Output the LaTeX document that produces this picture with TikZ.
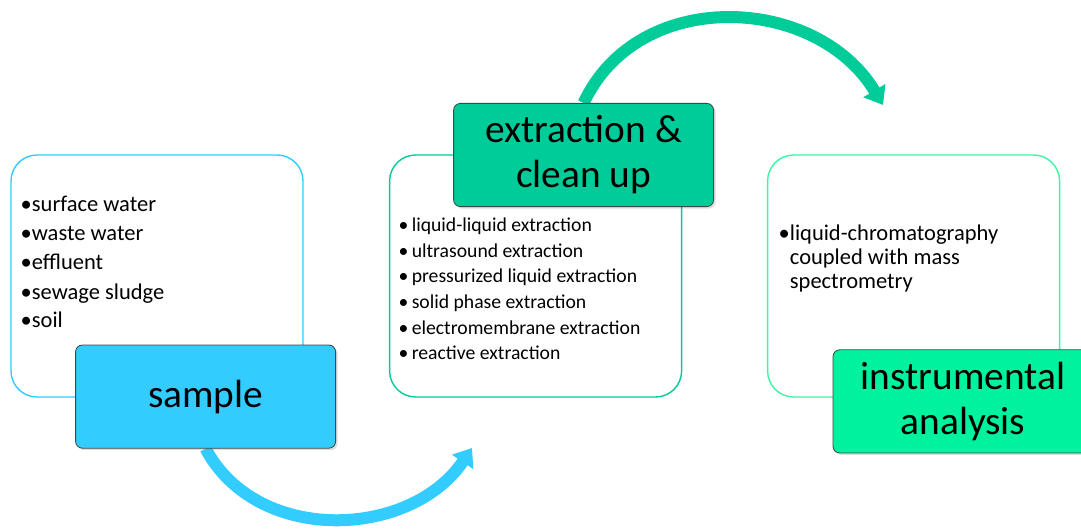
\documentclass[tikz,border=0pt]{standalone}
\usepackage{fontspec}
\setmainfont{Carlito}
\usetikzlibrary{arrows.meta, positioning, shadows, backgrounds}
\definecolor{cblue}{HTML}{33CCFF}
\definecolor{cteal}{HTML}{00CC99}
\definecolor{cmint}{HTML}{00F29E}
\definecolor{cmintline}{HTML}{3DF5A5}
\definecolor{cedge}{HTML}{3A4A4A}
\tikzset{
  every picture/.style={line width=1pt},
  panel/.style={draw=#1, fill=white, rounded corners=0.65cm, minimum width=7.3cm, minimum height=6.05cm},
  head/.style={draw=cedge, fill=#1, line width=0.6pt, rounded corners=0.17cm, minimum width=6.5cm, minimum height=2.58cm, align=center, font=\fontsize{28}{32}\selectfont, drop shadow={opacity=0.25, shadow xshift=0.5mm, shadow yshift=-0.5mm}},
  item/.style={anchor=base west, inner sep=0pt},
  flow/.style={draw=#1, line width=0.3cm, -{Triangle[width=0.62cm, length=0.42cm]}},
}

\begin{document}
\begin{tikzpicture}
  \useasboundingbox (0,0) rectangle (27.025,13.275);
  % outline panels
  \node[panel=cblue] (p1) at (3.925,6.375) {};
  \node[panel=cteal] (p2) at (13.39,6.375) {};
  \node[panel=cmintline] (p3) at (22.84,6.375) {};
  % sample list
  \foreach \i/\t in {0/surface water, 1/waste water, 2/effluent, 3/sewage sludge, 4/soil}
    { \node[item, font=\fontsize{16}{20}\selectfont] (s\i) at (0.5,7.975-0.725*\i) {•\t}; }
  % extraction list
  \foreach \i/\t in {0/liquid-liquid extraction, 1/ultrasound extraction, 2/pressurized liquid extraction, 3/solid phase extraction, 4/electromembrane extraction, 5/reactive extraction}
    { \node[item, font=\fontsize{14}{18}\selectfont] (e\i) at (9.95,7.48-0.64*\i) {•\,\t}; }
  % analysis list
  \node[item, font=\fontsize{16}{17}\selectfont] (a0) at (19.45,7.26)
    {\begin{tabular}[t]{@{}l@{}l@{}}•&liquid-chromatography\\&coupled with mass\\&spectrometry\end{tabular}};
  % step titles
  \node[head=cblue] (sample) at (5.14,3.36) {sample};
  \node[head=cteal] (ext) at (14.59,9.4) {extraction \&\\clean up};
  \node[head=cmint] (instr) at (24.075,3.24) {instrumental\\analysis};
  % curved arrows
  \coordinate (t1) at (11.8,2.075);
  \coordinate (t2) at (22.075,10.65);
  \begin{scope}[on background layer]
    \draw[flow=cblue] (sample.south) to[out=-62, in=-124, looseness=1.05] (t1);
    \draw[flow=cteal] (ext.north) to[out=65, in=121, looseness=1.1] (t2);
  \end{scope}
\end{tikzpicture}
\end{document}
